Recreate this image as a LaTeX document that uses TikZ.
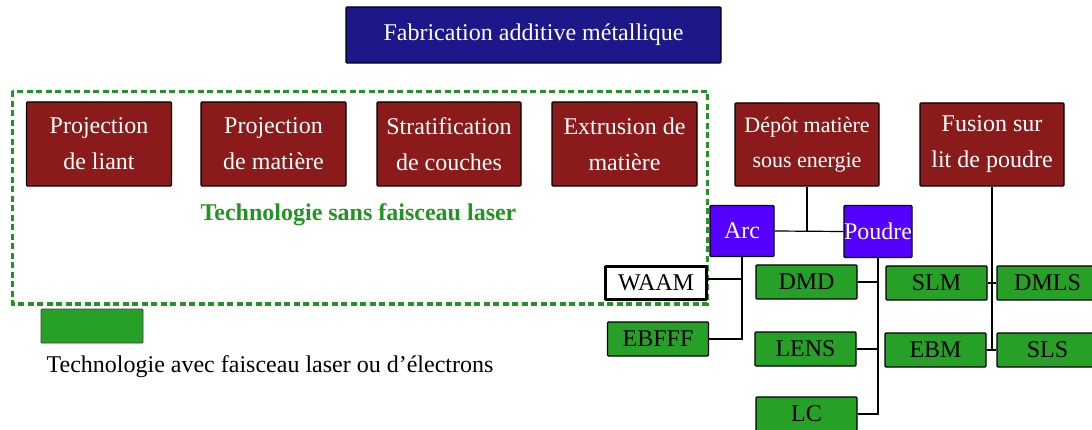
\documentclass[tikz,border=0pt]{standalone}
\usepackage{fontspec}
\setmainfont{Liberation Serif}
\definecolor{fabblue}{RGB}{28,24,138}
\definecolor{catred}{RGB}{139,26,26}
\definecolor{srcpurple}{RGB}{85,0,255}
\definecolor{techgreen}{RGB}{38,160,38}
\definecolor{grpgreen}{RGB}{34,148,34}
\begin{document}
\begin{tikzpicture}[x=1pt,y=-1pt,
  box/.style={draw=black, line width=1.2pt, rounded corners=1pt, inner sep=0pt, align=center,
    font=\fontsize{24}{36}\selectfont},
  catbox/.style={box, fill=catred, text=white, minimum width=145pt, minimum height=84pt},
  srcbox/.style={box, fill=srcpurple, text=white, minimum height=51pt},
  procbox/.style={box, fill=techgreen, text=black, minimum width=101pt, minimum height=34pt},
  link/.style={draw=black, line width=1.2pt}
]
\useasboundingbox (0,0) rectangle (1092,430);

% title
\node[box, fill=fabblue, text=white, minimum width=375pt, minimum height=56pt] (fab) at (533.5,35) {Fabrication additive métallique};

% group without laser
\draw[grpgreen, line width=3pt, dash pattern=on 6pt off 3.5pt] (12,91.5) rectangle (707.5,304);

\node[catbox] (p1) at (99,144) {Projection\\de liant};
\node[catbox] (p2) at (273.5,144) {Projection\\de matière};
\node[catbox, minimum width=144pt] (p3) at (449,144) {Stratification\\de couches};
\node[catbox] (p4) at (624.5,144) {Extrusion de\\matière};
\node[anchor=base, inner sep=0pt, text=grpgreen, font=\fontsize{24}{28}\selectfont\bfseries] (sans) at (358.5,221) {Technologie sans faisceau laser};

% energy deposition branch
\node[catbox, minimum width=144pt, minimum height=83pt, font=\fontsize{22}{35}\selectfont] (dep) at (807,144.5) {Dépôt matière\\sous energie};
\node[catbox, minimum width=144pt, minimum height=83pt] (fus) at (992,144.5) {Fusion sur\\lit de poudre};

\node[srcbox, minimum width=64pt] (arc) at (742,231) {Arc};
\node[srcbox, minimum width=66pt, minimum height=52pt] (pou) at (878,231.5) {Poudre};

\node[box, fill=white, line width=2.6pt, rounded corners=0.5pt, minimum width=101pt, minimum height=33pt] (waam) at (656,283) {WAAM};
\node[procbox] (ebfff) at (658,339) {EBFFF};

\node[procbox] (dmd) at (806.5,282) {DMD};
\node[procbox] (lens) at (805.5,349) {LENS};
\node[procbox] (lc) at (806.5,414) {LC};

\node[procbox] (slm) at (936.5,283) {SLM};
\node[procbox] (ebm) at (935.5,350) {EBM};
\node[procbox] (dmls) at (1047.5,283) {DMLS};
\node[procbox] (sls) at (1047.5,350) {SLS};

% legend
\node[procbox, draw=black!75, line width=0.8pt, minimum width=102pt] (leg) at (92,326) {};
\node[anchor=base, inner sep=0pt, font=\fontsize{24}{28}\selectfont] (legtext) at (270,372.5) {Technologie avec faisceau laser ou d’électrons};

% connectors
\draw[link] (arc.east) -- (pou.west);
\draw[link] (dep.south) -- (dep.south |- arc.east);
\draw[link] (arc.south) -- (arc.south |- ebfff.east) -- (ebfff.east);
\draw[link] ([yshift=4pt]waam.east) -- ([yshift=4pt]arc.south |- waam.east);
\draw[link] (pou.south) -- (pou.south |- lc.east) -- (lc.east);
\draw[link] (dmd.east) -- (pou.south |- dmd.east);
\draw[link] (lens.east) -- (pou.south |- lens.east);
\draw[link] (fus.south) -- (fus.south |- ebm.east);
\draw[link] (slm.east) -- (dmls.west);
\draw[link] (ebm.east) -- (sls.west);
\end{tikzpicture}
\end{document}
